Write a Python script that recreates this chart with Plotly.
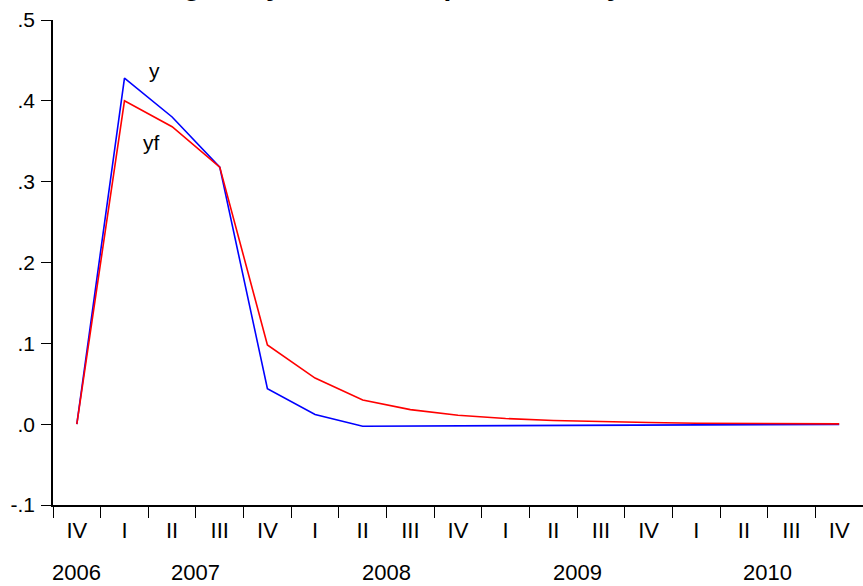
import plotly.graph_objects as go

quarters = ["IV", "I", "II", "III", "IV", "I", "II", "III", "IV",
            "I", "II", "III", "IV", "I", "II", "III", "IV"]
years = ["2006", "2007", "2008", "2009", "2010"]
year_pos = [0, 2.5, 6.5, 10.5, 14.5]

y_vals = [0.0, 0.428, 0.380, 0.318, 0.044, 0.012, -0.0025, -0.0023, -0.0020,
          -0.0017, -0.0014, -0.0011, -0.0008, -0.0006, -0.0004, -0.0003, -0.0002]
yf_vals = [0.0, 0.400, 0.368, 0.318, 0.098, 0.057, 0.030, 0.018, 0.011,
           0.007, 0.0045, 0.003, 0.002, 0.0012, 0.0008, 0.0005, 0.0003]

ytick_vals = [-0.1, 0.0, 0.1, 0.2, 0.3, 0.4, 0.5]
ytick_text = ["-.1", ".0", ".1", ".2", ".3", ".4", ".5"]

title_text = "Forecasting and y and its sample mean of y"

x = list(range(len(quarters)))

fig = go.Figure()
fig.add_trace(go.Scatter(x=x, y=y_vals, mode="lines", name="y",
                         line=dict(color="#0000ff", width=1.6)))
fig.add_trace(go.Scatter(x=x, y=yf_vals, mode="lines", name="yf",
                         line=dict(color="#ff0000", width=1.6)))

FAM = "Liberation Sans, Arial, sans-serif"
xfont = dict(family=FAM, size=22, color="black")
yfont = dict(family=FAM, size=21, color="black")
lfont = dict(family=FAM, size=21, color="black")

fig.update_layout(
    width=863, height=586,
    margin=dict(l=53, r=0, t=20, b=81),
    paper_bgcolor="white", plot_bgcolor="white",
    showlegend=False,
    font=xfont,
    xaxis=dict(
        range=[-0.5, 16.5], showgrid=False, zeroline=False,
        showline=True, linecolor="black", linewidth=1.5,
        tickmode="array", tickvals=x, ticktext=quarters, ticks="",
        tickfont=xfont, ticklabelstandoff=5,
        minor=dict(tickmode="linear", tick0=-0.5, dtick=1, ticks="outside",
                   ticklen=11, tickcolor="black", tickwidth=1, showgrid=False),
    ),
    yaxis=dict(
        range=[-0.1, 0.5], showgrid=False, zeroline=False,
        showline=True, linecolor="black", linewidth=1.5,
        tickmode="array", tickvals=ytick_vals, ticktext=ytick_text,
        ticks="outside", ticklen=10, tickcolor="black", tickfont=yfont,
        ticklabelstandoff=2,
    ),
)

for yr, pos in zip(years, year_pos):
    fig.add_annotation(x=pos, y=-0.1402, xref="x", yref="paper", text=yr,
                       showarrow=False, font=xfont, yanchor="middle")

fig.add_annotation(x=1.63, y=0.437, xref="x", yref="y", text="y",
                   showarrow=False, font=lfont)
fig.add_annotation(x=1.57, y=0.348, xref="x", yref="y", text="yf",
                   showarrow=False, font=lfont)

# Title, largely cut off at the top edge of the image (as in the reference)
fig.add_annotation(x=-0.016, y=1.035, xref="paper", yref="paper",
                   text="<b>" + title_text + "</b>", showarrow=False,
                   font=dict(family=FAM, size=28, color="black"),
                   xanchor="left", yanchor="bottom")

fig.write_html("out.html")
